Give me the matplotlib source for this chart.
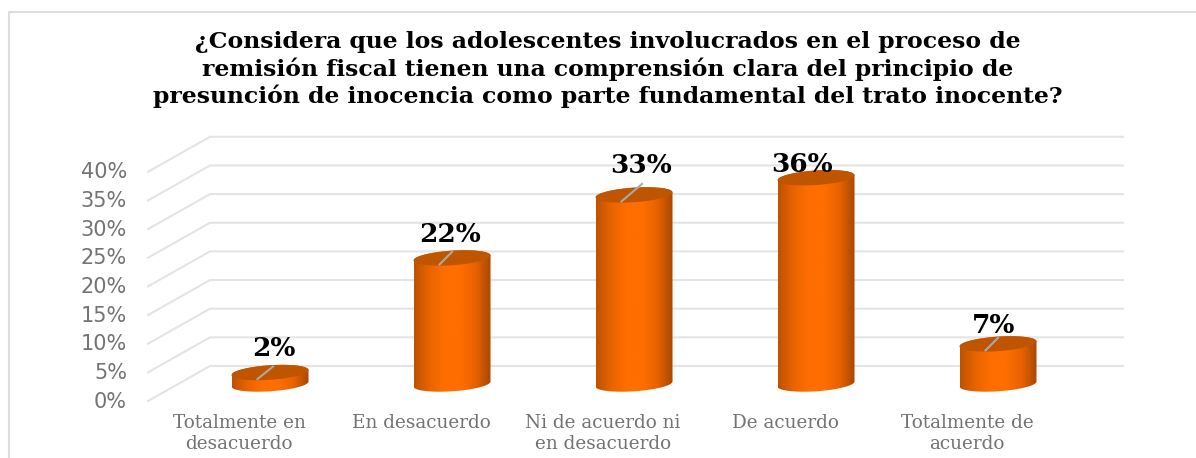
#!/usr/bin/env python3
"""3D-look cylinder bar chart, drawn on a flat axes in percent units."""

import matplotlib

matplotlib.use("Agg")
import matplotlib.pyplot as plt
import numpy as np
from matplotlib.colors import LinearSegmentedColormap
from matplotlib.patches import Polygon

W, H = 1196, 458

TITLE_LINES = [
    "¿Considera que los adolescentes involucrados en el proceso de",
    "remisión fiscal tienen una comprensión clara del principio de",
    "presunción de inocencia como parte fundamental del trato inocente?",
]
categories = [
    "Totalmente en\ndesacuerdo",
    "En desacuerdo",
    "Ni de acuerdo ni\nen desacuerdo",
    "De acuerdo",
    "Totalmente de\nacuerdo",
]
values = [2, 22, 33, 36, 7]
ticks = [0, 5, 10, 15, 20, 25, 30, 35, 40]

# one category step = 182 px, one percent = 5.73 px
PX_X = 182.0
PX_Y = 5.73
X0_PX = 270.0  # first bar centre
Y0_PX = 384.0  # bar base centre

# hand-placed data labels, px from the top centre of each bar
LABEL_DX = [4, -2, 7, -14, -4]
LABEL_DY = [24, 23, 29, 13, 18]
# leader line ends, px from the top centre (36% has no leader)
LEADER_X = [3, 0, 8, None, 0]
LEADER_Y = [6, 6, 11, None, 6]

GRID = "#E4E4E4"
TOP = "#C05500"
shade = LinearSegmentedColormap.from_list(
    "cyl", ["#BE5200", "#E86400", "#FF6E00", "#FF6E00", "#E86200", "#A84800"]
)

fig = plt.figure(figsize=(W / 100, H / 100), dpi=100, facecolor="white")
ax = fig.add_axes([0, 0, 1, 1])
ax.set_xlim(-X0_PX / PX_X, (W - X0_PX) / PX_X)
ax.set_ylim((Y0_PX - H) / PX_Y, Y0_PX / PX_Y)
ax.axis("off")

# floor and back wall offsets, in data units
front_dx, front_dy = (148 - X0_PX) / PX_X, (Y0_PX - 401) / PX_Y
back_dx, back_dy = (210 - X0_PX) / PX_X, (Y0_PX - 366) / PX_Y
right_dx = (1123 - X0_PX) / PX_X

for t in ticks:
    ax.plot([front_dx, back_dx, right_dx],
            [t + front_dy, t + back_dy, t + back_dy],
            color=GRID, lw=1.5, zorder=1, solid_joinstyle="miter")
    ax.text(front_dx - 21 / PX_X, t + front_dy - 0.1, f"{t}%", ha="right", va="center",
            fontsize=15, color="#737373", family="DejaVu Sans")

# bar geometry
half_w = 38.5 / PX_X
minor = 7.3 / PX_Y
tilt = (2.5 / PX_Y) / half_w  # rise across the ellipse, percent per category unit


def ellipse(cx, level, n=90):
    th = np.linspace(0, 2 * np.pi, n)
    ex = half_w * np.cos(th)
    return cx + ex, level + minor * np.sin(th) + tilt * ex


grad = np.linspace(0, 1, 256).reshape(1, -1)
for i, v in enumerate(values):
    x_top, y_top = ellipse(i, v)
    x_bot, y_bot = ellipse(i, 0)
    # body outline: upper half of top, lower half of base
    half = x_bot.size // 2
    body_x = np.r_[x_top[:half + 1], x_bot[half:], x_top[0]]
    body_y = np.r_[y_top[:half + 1], y_bot[half:], y_top[0]]
    clip = Polygon(np.c_[body_x, body_y], closed=True, transform=ax.transData,
                   fc="none", ec="none")
    ax.add_patch(clip)
    im = ax.imshow(grad, extent=[i - half_w, i + half_w, -5, v + 5], cmap=shade,
                   aspect="auto", zorder=3)
    im.set_clip_path(clip)
    ax.fill(x_top, y_top, color=TOP, zorder=4, lw=0)
    # leader line and value label
    if LEADER_X[i] is not None:
        ax.plot([i - 12.5 / PX_X, i + LEADER_X[i] / PX_X],
                [v - 6.5 / PX_Y, v + LEADER_Y[i] / PX_Y],
                color="#A9A9A9", lw=1.5, zorder=5)
    ax.text(i + LABEL_DX[i] / PX_X, v + LABEL_DY[i] / PX_Y, f"{v}%", ha="center",
            va="center", fontsize=19, fontweight="bold", color="black",
            family="DejaVu Serif", zorder=6)

ax.set_xlim(-X0_PX / PX_X, (W - X0_PX) / PX_X)
ax.set_ylim((Y0_PX - H) / PX_Y, Y0_PX / PX_Y)

for i, c in enumerate(categories):
    ax.text(i - 0.17, (Y0_PX - 414) / PX_Y, c, ha="center", va="top", fontsize=13.2,
            color="#737373", family="DejaVu Serif", linespacing=1.2)

for k, line in enumerate(TITLE_LINES):
    fig.text(608 / W, 1 - (42 + 27 * k) / H, line, ha="center", va="center",
             fontsize=16.9, fontweight="bold", color="black", family="DejaVu Serif")

# outer frame of the pasted chart
fig.add_artist(plt.Line2D([9 / W, 9 / W, 1], [0, 1 - 12 / H, 1 - 12 / H],
                          color="#DDDDDD", lw=1.5))

fig.savefig("out.png", dpi=100, facecolor="white")
